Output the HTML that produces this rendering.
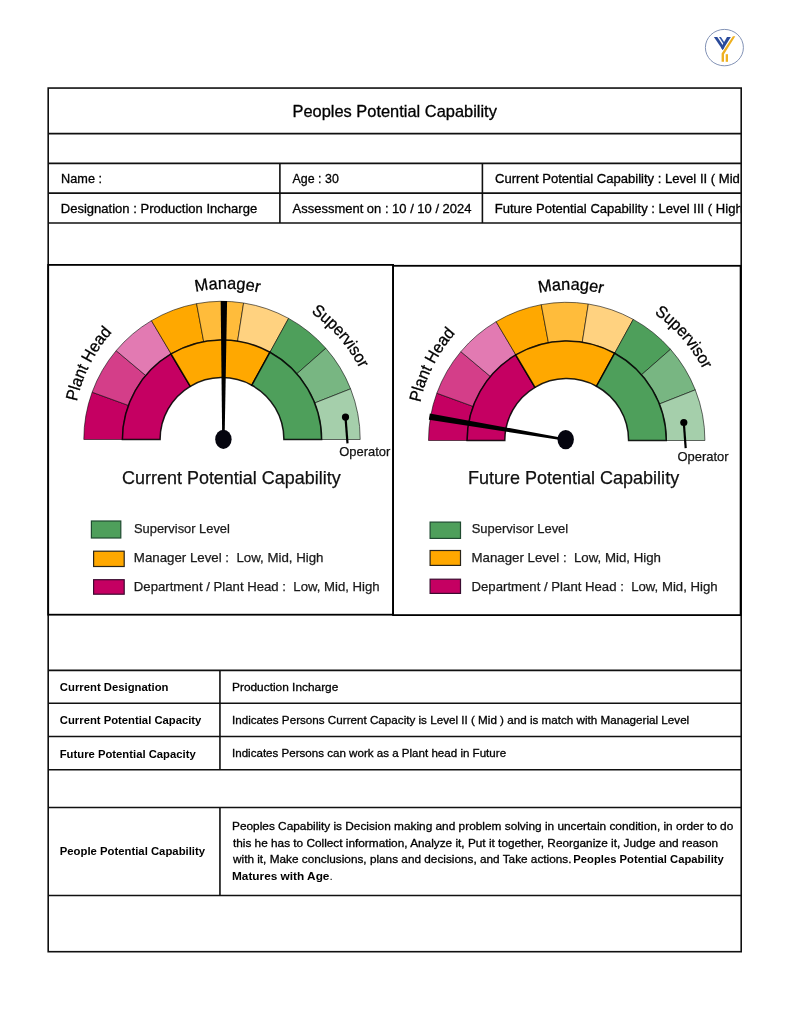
<!DOCTYPE html>
<html><head><meta charset="utf-8"><title>Peoples Potential Capability</title>
<style>
html,body{margin:0;padding:0;background:#fff;}
body{width:791px;height:1024px;overflow:hidden;font-family:"Liberation Sans",sans-serif;}
svg{will-change:transform;display:block;position:absolute;left:0;top:0;}
text{font-family:"Liberation Sans",sans-serif;white-space:pre;}
</style></head><body>
<svg width="791" height="1024" viewBox="0 0 791 1024">
<rect width="791" height="1024" fill="#fff"/>
<g id="logo">
<ellipse cx="724.4" cy="47.6" rx="19.0" ry="18.2" fill="#fff" stroke="#7486ad" stroke-width="0.9"/>
<path d="M713.9 37.1L717.3 37.1L724.3 47.4L722.7 50.0Z" fill="#2a4a9a"/>
<path d="M719.0 37.1L720.9 37.1L725.5 44.0L724.5 45.5Z" fill="#2f55a8"/>
<path d="M722.7 50.0L721.0 47.4L727.0 37.1L730.8 37.1Z" fill="#2a4a9a"/>
<path d="M732.9 36.3L735.3 36.3L724.0 54.3L724.0 61.8L721.6 61.8L721.6 53.6Z" fill="#eeb020"/>
<rect x="725.7" y="54.2" width="2.3" height="7.6" fill="#eeb020"/>
</g>
<g fill="none" stroke="#101010" stroke-width="1.6" shape-rendering="auto">
<rect x="48.2" y="88.05" width="693.0" height="863.65"/>
<line x1="48.3" y1="133.65" x2="741.2" y2="133.65"/>
<line x1="48.3" y1="163.4" x2="741.2" y2="163.4"/>
<line x1="48.3" y1="193.15" x2="741.2" y2="193.15"/>
<line x1="48.3" y1="223.0" x2="741.2" y2="223.0"/>
<line x1="48.3" y1="670.35" x2="741.2" y2="670.35"/>
<line x1="48.3" y1="703.3" x2="741.2" y2="703.3"/>
<line x1="48.3" y1="736.5" x2="741.2" y2="736.5"/>
<line x1="48.3" y1="769.7" x2="741.2" y2="769.7"/>
<line x1="48.3" y1="807.45" x2="741.2" y2="807.45"/>
<line x1="48.3" y1="895.55" x2="741.2" y2="895.55"/>
<line x1="279.9" y1="163.4" x2="279.9" y2="223.0"/>
<line x1="482.4" y1="163.4" x2="482.4" y2="223.0"/>
<line x1="219.95" y1="670.35" x2="219.95" y2="769.7"/>
<line x1="219.95" y1="807.45" x2="219.95" y2="895.55"/>
</g>
<g fill="#fff" stroke="#000" stroke-width="1.8">
<rect x="48.2" y="264.9" width="344.9" height="349.8"/>
<rect x="393.1" y="265.8" width="347.5" height="349.3"/>
</g>
<g id="g1"><path d="M83.80 439.50A138.2 138.2 0 0 1 92.13 392.23L128.41 405.43A99.6 99.6 0 0 0 122.40 439.50Z" fill="#C50062" stroke="rgba(0,0,0,0.72)" stroke-width="0.8" stroke-linejoin="miter"/>
<path d="M92.13 392.23A138.2 138.2 0 0 1 116.13 350.67L145.70 375.48A99.6 99.6 0 0 0 128.41 405.43Z" fill="#D43E89" stroke="rgba(0,0,0,0.72)" stroke-width="0.8" stroke-linejoin="miter"/>
<path d="M116.13 350.67A138.2 138.2 0 0 1 151.44 320.67L171.15 353.86A99.6 99.6 0 0 0 145.70 375.48Z" fill="#E27AB2" stroke="rgba(0,0,0,0.72)" stroke-width="0.8" stroke-linejoin="miter"/>
<path d="M151.44 320.67A138.2 138.2 0 0 1 196.58 303.66L203.68 341.60A99.6 99.6 0 0 0 171.15 353.86Z" fill="#FFA800" stroke="rgba(0,0,0,0.72)" stroke-width="0.8" stroke-linejoin="miter"/>
<path d="M196.58 303.66A138.2 138.2 0 0 1 243.62 303.00L237.58 341.13A99.6 99.6 0 0 0 203.68 341.60Z" fill="#FFBC3B" stroke="rgba(0,0,0,0.72)" stroke-width="0.8" stroke-linejoin="miter"/>
<path d="M243.62 303.00A138.2 138.2 0 0 1 288.58 318.39L269.98 352.22A99.6 99.6 0 0 0 237.58 341.13Z" fill="#FFD280" stroke="rgba(0,0,0,0.72)" stroke-width="0.8" stroke-linejoin="miter"/>
<path d="M288.58 318.39A138.2 138.2 0 0 1 325.82 348.29L296.83 373.76A99.6 99.6 0 0 0 269.98 352.22Z" fill="#4E9F5B" stroke="rgba(0,0,0,0.72)" stroke-width="0.8" stroke-linejoin="miter"/>
<path d="M325.82 348.29A138.2 138.2 0 0 1 350.58 388.85L314.67 403.00A99.6 99.6 0 0 0 296.83 373.76Z" fill="#78B682" stroke="rgba(0,0,0,0.72)" stroke-width="0.8" stroke-linejoin="miter"/>
<path d="M350.58 388.85A138.2 138.2 0 0 1 360.20 439.50L321.60 439.50A99.6 99.6 0 0 0 314.67 403.00Z" fill="#A5CFAB" stroke="rgba(0,0,0,0.72)" stroke-width="0.8" stroke-linejoin="miter"/>
<path d="M122.40 439.50A99.6 99.6 0 0 1 171.00 353.95L190.30 386.33A61.9 61.9 0 0 0 160.10 439.50Z" fill="#C50062" stroke="rgba(0,0,0,0.88)" stroke-width="1.5" stroke-linejoin="miter"/>
<path d="M171.00 353.95A99.6 99.6 0 0 1 269.98 352.22L251.82 385.26A61.9 61.9 0 0 0 190.30 386.33Z" fill="#FFA800" stroke="rgba(0,0,0,0.88)" stroke-width="1.5" stroke-linejoin="miter"/>
<path d="M269.98 352.22A99.6 99.6 0 0 1 321.60 439.50L283.90 439.50A61.9 61.9 0 0 0 251.82 385.26Z" fill="#4E9F5B" stroke="rgba(0,0,0,0.88)" stroke-width="1.5" stroke-linejoin="miter"/>
<polygon points="227.08,301.01 220.68,300.99 222.20,439.30 224.60,439.30" fill="#000"/>
<ellipse cx="223.4" cy="439.3" rx="8.2" ry="9.6" fill="#05050f"/>
<line x1="345.5" y1="417.1" x2="347.5" y2="443.3" stroke="#000" stroke-width="2.2"/>
<circle cx="345.5" cy="417.1" r="3.6" fill="#000"/></g>
<g id="g2"><path d="M428.50 440.50A138.2 138.2 0 0 1 436.83 393.23L473.11 406.43A99.6 99.6 0 0 0 467.10 440.50Z" fill="#C50062" stroke="rgba(0,0,0,0.72)" stroke-width="0.8" stroke-linejoin="miter"/>
<path d="M436.83 393.23A138.2 138.2 0 0 1 460.83 351.67L490.40 376.48A99.6 99.6 0 0 0 473.11 406.43Z" fill="#D43E89" stroke="rgba(0,0,0,0.72)" stroke-width="0.8" stroke-linejoin="miter"/>
<path d="M460.83 351.67A138.2 138.2 0 0 1 496.14 321.67L515.85 354.86A99.6 99.6 0 0 0 490.40 376.48Z" fill="#E27AB2" stroke="rgba(0,0,0,0.72)" stroke-width="0.8" stroke-linejoin="miter"/>
<path d="M496.14 321.67A138.2 138.2 0 0 1 541.28 304.66L548.38 342.60A99.6 99.6 0 0 0 515.85 354.86Z" fill="#FFA800" stroke="rgba(0,0,0,0.72)" stroke-width="0.8" stroke-linejoin="miter"/>
<path d="M541.28 304.66A138.2 138.2 0 0 1 588.32 304.00L582.28 342.13A99.6 99.6 0 0 0 548.38 342.60Z" fill="#FFBC3B" stroke="rgba(0,0,0,0.72)" stroke-width="0.8" stroke-linejoin="miter"/>
<path d="M588.32 304.00A138.2 138.2 0 0 1 633.28 319.39L614.68 353.22A99.6 99.6 0 0 0 582.28 342.13Z" fill="#FFD280" stroke="rgba(0,0,0,0.72)" stroke-width="0.8" stroke-linejoin="miter"/>
<path d="M633.28 319.39A138.2 138.2 0 0 1 670.52 349.29L641.53 374.76A99.6 99.6 0 0 0 614.68 353.22Z" fill="#4E9F5B" stroke="rgba(0,0,0,0.72)" stroke-width="0.8" stroke-linejoin="miter"/>
<path d="M670.52 349.29A138.2 138.2 0 0 1 695.28 389.85L659.37 404.00A99.6 99.6 0 0 0 641.53 374.76Z" fill="#78B682" stroke="rgba(0,0,0,0.72)" stroke-width="0.8" stroke-linejoin="miter"/>
<path d="M695.28 389.85A138.2 138.2 0 0 1 704.90 440.50L666.30 440.50A99.6 99.6 0 0 0 659.37 404.00Z" fill="#A5CFAB" stroke="rgba(0,0,0,0.72)" stroke-width="0.8" stroke-linejoin="miter"/>
<path d="M467.10 440.50A99.6 99.6 0 0 1 515.70 354.95L535.00 387.33A61.9 61.9 0 0 0 504.80 440.50Z" fill="#C50062" stroke="rgba(0,0,0,0.88)" stroke-width="1.5" stroke-linejoin="miter"/>
<path d="M515.70 354.95A99.6 99.6 0 0 1 614.68 353.22L596.52 386.26A61.9 61.9 0 0 0 535.00 387.33Z" fill="#FFA800" stroke="rgba(0,0,0,0.88)" stroke-width="1.5" stroke-linejoin="miter"/>
<path d="M614.68 353.22A99.6 99.6 0 0 1 666.30 440.50L628.60 440.50A61.9 61.9 0 0 0 596.52 386.26Z" fill="#4E9F5B" stroke="rgba(0,0,0,0.88)" stroke-width="1.5" stroke-linejoin="miter"/>
<polygon points="429.87,413.38 428.80,419.69 565.50,440.78 565.90,438.42" fill="#000"/>
<ellipse cx="565.7" cy="439.6" rx="8.2" ry="9.6" fill="#05050f"/>
<line x1="683.8" y1="422.5" x2="685.7" y2="448.2" stroke="#000" stroke-width="2.2"/>
<circle cx="683.8" cy="422.5" r="3.6" fill="#000"/></g>
<path id="lp25" d="M76.90 401.50A152 152 0 0 1 112.10 332.40" fill="none"/><text font-size="16.8" fill="#000" stroke="#000" stroke-width="0.3" textLength="78.4" lengthAdjust="spacingAndGlyphs"><textPath href="#lp25" startOffset="0">Plant Head</textPath></text>
<path id="lp26" d="M195.60 291.80A152 152 0 0 1 259.20 292.50" fill="none"/><text font-size="16.8" fill="#000" stroke="#000" stroke-width="0.3" textLength="64.1" lengthAdjust="spacingAndGlyphs"><textPath href="#lp26" startOffset="0">Manager</textPath></text>
<path id="lp27" d="M310.90 312.60A155 155 0 0 1 359.70 368.50" fill="none"/><text font-size="16.8" fill="#000" stroke="#000" stroke-width="0.3" textLength="74.9" lengthAdjust="spacingAndGlyphs"><textPath href="#lp27" startOffset="0">Supervisor</textPath></text>
<path id="lp28" d="M420.30 402.50A152 152 0 0 1 455.50 333.40" fill="none"/><text font-size="16.8" fill="#000" stroke="#000" stroke-width="0.3" textLength="78.4" lengthAdjust="spacingAndGlyphs"><textPath href="#lp28" startOffset="0">Plant Head</textPath></text>
<path id="lp29" d="M539.00 292.80A152 152 0 0 1 602.60 293.50" fill="none"/><text font-size="16.8" fill="#000" stroke="#000" stroke-width="0.3" textLength="64.1" lengthAdjust="spacingAndGlyphs"><textPath href="#lp29" startOffset="0">Manager</textPath></text>
<path id="lp30" d="M654.30 313.60A155 155 0 0 1 703.10 369.50" fill="none"/><text font-size="16.8" fill="#000" stroke="#000" stroke-width="0.3" textLength="74.9" lengthAdjust="spacingAndGlyphs"><textPath href="#lp30" startOffset="0">Supervisor</textPath></text>
<rect x="91.4" y="521.0" width="29.4" height="17.0" fill="#4E9F5B" stroke="#1f4a30" stroke-width="1.2"/>
<rect x="93.6" y="551.2" width="30.6" height="15.3" fill="#FFA800" stroke="#2a2418" stroke-width="1.2"/>
<rect x="93.6" y="579.7" width="30.6" height="14.5" fill="#C50062" stroke="#3a0c30" stroke-width="1.2"/>
<rect x="430.1" y="522.1" width="30.4" height="16.3" fill="#4E9F5B" stroke="#1f4a30" stroke-width="1.2"/>
<rect x="430.1" y="550.5" width="30.4" height="14.9" fill="#FFA800" stroke="#2a2418" stroke-width="1.2"/>
<rect x="430.1" y="579.2" width="30.4" height="14.2" fill="#C50062" stroke="#3a0c30" stroke-width="1.2"/>
<g id="texts">
<text x="122.03" y="484.4" font-size="18.4" font-weight="400" fill="#111" stroke="#111" stroke-width="0.25" textLength="218.69" lengthAdjust="spacingAndGlyphs">Current Potential Capability</text>
<text x="467.88" y="484.1" font-size="18.4" font-weight="400" fill="#111" stroke="#111" stroke-width="0.25" textLength="211.27" lengthAdjust="spacingAndGlyphs">Future Potential Capability</text>
<text x="339.29" y="456.2" font-size="13.5" font-weight="400" fill="#111" stroke="#111" stroke-width="0.25" textLength="51.02" lengthAdjust="spacingAndGlyphs">Operator</text>
<text x="677.48" y="461.2" font-size="13.5" font-weight="400" fill="#111" stroke="#111" stroke-width="0.25" textLength="51.19" lengthAdjust="spacingAndGlyphs">Operator</text>
<text x="133.97" y="533.3" font-size="13.2" font-weight="400" fill="#1a1a1a" stroke="#1a1a1a" stroke-width="0.25" textLength="95.93" lengthAdjust="spacingAndGlyphs">Supervisor Level</text>
<text x="133.84" y="562.2" font-size="13.2" font-weight="400" fill="#1a1a1a" stroke="#1a1a1a" stroke-width="0.25" textLength="189.67" lengthAdjust="spacingAndGlyphs">Manager Level :  Low, Mid, High</text>
<text x="133.84" y="590.9" font-size="13.2" font-weight="400" fill="#1a1a1a" stroke="#1a1a1a" stroke-width="0.25" textLength="245.81" lengthAdjust="spacingAndGlyphs">Department / Plant Head :  Low, Mid, High</text>
<text x="471.74" y="533.3" font-size="13.2" font-weight="400" fill="#1a1a1a" stroke="#1a1a1a" stroke-width="0.25" textLength="96.48" lengthAdjust="spacingAndGlyphs">Supervisor Level</text>
<text x="471.50" y="562.4" font-size="13.2" font-weight="400" fill="#1a1a1a" stroke="#1a1a1a" stroke-width="0.25" textLength="189.47" lengthAdjust="spacingAndGlyphs">Manager Level :  Low, Mid, High</text>
<text x="471.52" y="591.1" font-size="13.2" font-weight="400" fill="#1a1a1a" stroke="#1a1a1a" stroke-width="0.25" textLength="246.07" lengthAdjust="spacingAndGlyphs">Department / Plant Head :  Low, Mid, High</text>
<text x="292.44" y="117.2" font-size="16.2" font-weight="400" fill="#000" stroke="#000" stroke-width="0.3" textLength="204.43" lengthAdjust="spacingAndGlyphs">Peoples Potential Capability</text>
<text x="61.09" y="182.9" font-size="12.6" font-weight="400" fill="#000" stroke="#000" stroke-width="0.3" textLength="40.92" lengthAdjust="spacingAndGlyphs">Name :</text>
<text x="292.60" y="183.2" font-size="12.6" font-weight="400" fill="#000" stroke="#000" stroke-width="0.3" textLength="46.21" lengthAdjust="spacingAndGlyphs">Age : 30</text>
<text x="60.74" y="212.6" font-size="12.6" font-weight="400" fill="#000" stroke="#000" stroke-width="0.3" textLength="196.41" lengthAdjust="spacingAndGlyphs">Designation : Production Incharge</text>
<text x="292.58" y="212.9" font-size="12.6" font-weight="400" fill="#000" stroke="#000" stroke-width="0.3" textLength="178.88" lengthAdjust="spacingAndGlyphs">Assessment on : 10 / 10 / 2024</text>
<clipPath id="clipR"><rect x="483" y="164" width="257.4" height="58"/></clipPath>
<g clip-path="url(#clipR)">
<text x="494.96" y="183.2" font-size="12.6" font-weight="400" fill="#000" stroke="#000" stroke-width="0.3" textLength="244.91" lengthAdjust="spacingAndGlyphs">Current Potential Capability : Level II ( Mid</text>
<text x="494.66" y="212.9" font-size="12.6" font-weight="400" fill="#000" stroke="#000" stroke-width="0.3" textLength="248.02" lengthAdjust="spacingAndGlyphs">Future Potential Capability : Level III ( High</text>
</g>
<text x="59.84" y="691.2" font-size="11.4" font-weight="700" fill="#000" textLength="108.66" lengthAdjust="spacingAndGlyphs">Current Designation</text>
<text x="59.85" y="724.4" font-size="11.4" font-weight="700" fill="#000" textLength="141.53" lengthAdjust="spacingAndGlyphs">Current Potential Capacity</text>
<text x="59.73" y="757.6" font-size="11.4" font-weight="700" fill="#000" textLength="135.99" lengthAdjust="spacingAndGlyphs">Future Potential Capacity</text>
<text x="232.00" y="690.6" font-size="11.4" font-weight="400" fill="#000" stroke="#000" stroke-width="0.3" textLength="106.31" lengthAdjust="spacingAndGlyphs">Production Incharge</text>
<text x="232.00" y="724.0" font-size="11.4" font-weight="400" fill="#000" stroke="#000" stroke-width="0.3" textLength="457.22" lengthAdjust="spacingAndGlyphs">Indicates Persons Current Capacity is Level II ( Mid ) and is match with Managerial Level</text>
<text x="232.00" y="756.8" font-size="11.4" font-weight="400" fill="#000" stroke="#000" stroke-width="0.3" textLength="274.07" lengthAdjust="spacingAndGlyphs">Indicates Persons can work as a Plant head in Future</text>
<text x="59.73" y="854.8" font-size="11.4" font-weight="700" fill="#000" textLength="145.34" lengthAdjust="spacingAndGlyphs">People Potential Capability</text>
<text x="232.00" y="830.0" font-size="11.4" font-weight="400" fill="#000" stroke="#000" stroke-width="0.3" textLength="501.30" lengthAdjust="spacingAndGlyphs">Peoples Capability is Decision making and problem solving in uncertain condition, in order to do</text>
<text x="232.93" y="846.8" font-size="11.4" font-weight="400" fill="#000" stroke="#000" stroke-width="0.3" textLength="485.13" lengthAdjust="spacingAndGlyphs">this he has to Collect information, Analyze it, Put it together, Reorganize it, Judge and reason</text>
<text x="233.00" y="863.4" font-size="11.4" font-weight="400" fill="#000" stroke="#000" stroke-width="0.3" textLength="338.47" lengthAdjust="spacingAndGlyphs">with it, Make conclusions, plans and decisions, and Take actions.</text>
<text x="573.31" y="863.4" font-size="11.4" font-weight="700" fill="#000" textLength="150.53" lengthAdjust="spacingAndGlyphs">Peoples Potential Capability</text>
<text x="232.00" y="880.0" font-size="11.4" font-weight="400" fill="#000" textLength="100.73" lengthAdjust="spacingAndGlyphs"><tspan font-weight="700">Matures with Age</tspan>.</text>
</g>
</svg></body></html>
